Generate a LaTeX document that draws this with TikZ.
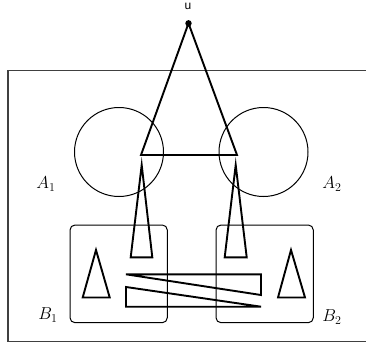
\documentclass[tikz,border=0pt]{standalone}
\usepackage{fontspec}
\newfontfamily\labelsans{Liberation Sans}
\begin{document}
\begin{tikzpicture}[x=1pt,y=-1pt,
  thickline/.style={line width=1.9pt, line join=miter},
  thinline/.style={line width=1pt},
  frameline/.style={line width=1.5pt, draw=black!75},
  boxline/.style={line width=1pt, rounded corners=5pt},
  lbl/.style={inner sep=0pt, font=\fontsize{17}{19}\selectfont}]
\useasboundingbox (0,0) rectangle (366,345);
% outer frame (right side beyond picture)
\draw[frameline] (380,70.7) -- (8,70.7) -- (8,341.5) -- (380,341.5);
% circles
\draw[thinline] (119,152) circle (44.5);
\draw[thinline] (263.5,152) circle (44.5);
% rounded boxes
\draw[boxline] (70,225) rectangle (167.3,322.7);
\draw[boxline] (216,225) rectangle (313.3,322.7);
% big triangle
\coordinate (u) at (188.5,23.3);
\draw[thickline] (u) -- (141,155) -- (237,155) -- cycle;
\fill (u) circle (3.2);
\node[inner sep=0pt, font=\labelsans\fontsize{12}{14}\selectfont] at (188,6) {u};
% thin tall triangles
\draw[thickline] (141.7,165) -- (130.7,257.3) -- (152.3,257.3) -- cycle;
\draw[thickline] (235.7,165) -- (224.7,257.3) -- (246.7,257.3) -- cycle;
% small triangles
\draw[thickline] (96,250) -- (82.7,297.5) -- (109.7,297.5) -- cycle;
\draw[thickline] (291,250) -- (278,297.5) -- (305,297.5) -- cycle;
% long slanted triangles
\draw[thickline] (126,274.3) -- (261,274.3) -- (261,295) -- cycle;
\draw[thickline] (126,287) -- (126,306.7) -- (261,306.7) -- cycle;
% labels
\node[lbl] at (46,184) {$A_1$};
\node[lbl] at (332,184) {$A_2$};
\node[lbl] at (48,315) {$B_1$};
\node[lbl] at (332,317) {$B_2$};
\end{tikzpicture}
\end{document}
